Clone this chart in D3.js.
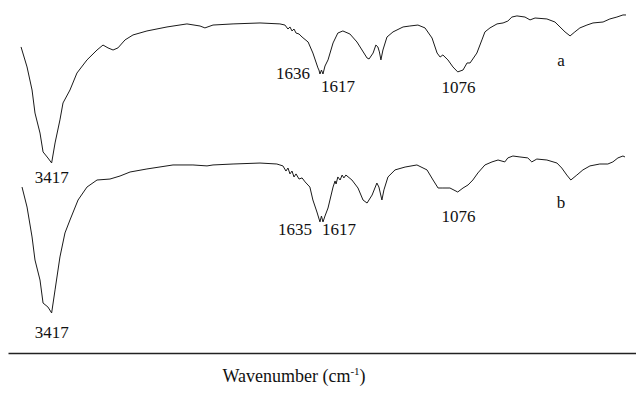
<!DOCTYPE html>
<html>
<head>
<meta charset="utf-8">
<script src="https://cdn.jsdelivr.net/npm/d3@7/dist/d3.min.js"></script>
<style>
  html, body { margin: 0; padding: 0; background: #fff; }
  svg { display: block; }
  text { font-family: "Liberation Serif", "Times New Roman", serif; fill: #111; }
</style>
</head>
<body>
<svg id="chart" width="636" height="394"></svg>
<script>
// ---- data: wavenumber (cm-1) and transmittance (arb. %) ----
const wavenumberA = [3667,3618,3577,3553,3512,3487,3447,3417,3389,3349,3324,3267,3210,3128,3046,2997,2956,2915,2875,2817,2752,2638,2474,2311,2204,2164,2098,1968,1861,1782,1762,1750,1742,1734,1726,1718,1706,1694,1670,1651,1631,1627,1623,1617,1611,1603,1591,1571,1552,1532,1504,1476,1456,1436,1428,1412,1401,1393,1387,1381,1373,1357,1333,1293,1266,1234,1206,1178,1158,1146,1135,1115,1095,1076,1055,1039,1027,1000,980,968,948,920,896,877,861,841,809,789,769,722,690,670,650,630,611,591,563,539,499,472,444,420,408];
const transA      = [76.9,64.4,50,35.6,23.1,11.3,7.5,4.4,16.9,31.3,41.9,50,60.6,68.8,75,78.1,76.3,75,76.3,81.3,84.4,86.9,89.4,91.3,90,88.8,90.6,91.3,91.9,91.3,90.6,88.1,89.4,86.9,88.1,85.6,85,83.1,80,73.1,63.8,62.5,60,62.5,60,65,68.8,79.4,85.6,86.9,85,80,75,70,69.4,73.1,78.1,76.9,73.8,68.8,75,83.1,86.3,89.4,90,90.6,88.8,82.5,73.1,70.6,71.9,68.8,64.4,61.3,62.5,66.9,66.9,73.1,81.3,86.3,88.8,91.3,91.9,93.1,95.6,96.3,95.6,93.8,95,94.4,92.5,89.4,86.3,83.8,86.3,88.8,90.6,91.9,92.5,94.4,95.6,96.9,96.9];

const wavenumberB = [3659,3618,3577,3553,3512,3487,3447,3417,3389,3349,3308,3267,3201,3128,3046,2940,2858,2776,2638,2425,2262,2147,2098,1968,1861,1794,1782,1770,1758,1750,1742,1734,1726,1718,1706,1694,1682,1663,1651,1635,1623,1617,1611,1603,1591,1571,1563,1559,1552,1543,1535,1528,1520,1496,1472,1452,1436,1416,1397,1389,1377,1369,1353,1325,1285,1238,1198,1174,1154,1135,1107,1076,1055,1035,1016,996,968,940,916,889,877,857,829,798,782,762,722,682,663,643,627,603,579,551,512,480,460,440,420,412];
const transB      = [83.1,70.6,51.9,37.5,25,10.6,8.1,4.4,18.8,39.4,54.4,62.5,75,83.1,87.5,88.1,90,92.5,94.4,96.9,96.9,96.3,96.9,97.5,98.1,97.5,96.9,96.3,93.1,95,91.3,93.1,89.4,91.3,88.1,88.8,86.3,83.1,75,67.5,61.3,65,61.3,65,70,83.1,86.9,85,89.4,87.5,90.6,88.8,90.6,87.5,82.5,75,73.1,78.1,85.6,83.1,75,81.3,89.4,93.8,95.6,96.9,93.8,87.5,82.5,82.5,82.5,80,82.5,84.4,87.5,91.9,96.9,98.8,100,98.8,101.3,102.5,101.9,101.3,98.8,100.6,100,98.1,95,90.6,87.5,90.6,93.8,96.3,97.5,97.5,98.8,101.3,102.5,101.9];

// peak labels: text, wavenumber anchor, transmittance anchor, text anchor
const labelsA = [
  {text: "3417", wn: 3417, t: -8,  anchor: "middle"},
  {text: "1636", wn: 1663, t: 57,  anchor: "end"},
  {text: "1617", wn: 1619, t: 49,  anchor: "start"},
  {text: "1076", wn: 1073, t: 48,  anchor: "middle"},
  {text: "a",    wn: 666,  t: 65,  anchor: "middle"}
];
const labelsB = [
  {text: "3417", wn: 3417, t: -11, anchor: "middle"},
  {text: "1635", wn: 1655, t: 53,  anchor: "end"},
  {text: "1617", wn: 1615, t: 53,  anchor: "start"},
  {text: "1076", wn: 1073, t: 61,  anchor: "middle"},
  {text: "b",    wn: 666,  t: 70,  anchor: "middle"}
];
const axisTitle = "Wavenumber (cm";
const axisTitleSup = "-1";

// ---- drawing ----
const svg = d3.select("#chart");

// IR spectrometer style: two linear segments joined at 2000 cm-1
const x = d3.scaleLinear().domain([3700, 2000, 400]).range([17, 225, 628]);
const y = d3.scaleLinear().domain([0, 100]).range([170, 10]);

const line = d3.line()
  .x(d => x(d[0]))
  .y(d => y(d[1]));

const gA = svg.append("g");
const gB = svg.append("g").attr("transform", "translate(0,150)");

gA.append("path")
  .datum(d3.zip(wavenumberA, transA))
  .attr("d", line)
  .attr("fill", "none")
  .attr("stroke", "#1a1a1a")
  .attr("stroke-width", 1)
  .attr("stroke-linejoin", "round");

gB.append("path")
  .datum(d3.zip(wavenumberB, transB))
  .attr("d", line)
  .attr("fill", "none")
  .attr("stroke", "#1a1a1a")
  .attr("stroke-width", 1)
  .attr("stroke-linejoin", "round");

function drawLabels(g, labels) {
  g.selectAll("text.peak")
    .data(labels)
    .join("text")
    .attr("class", "peak")
    .attr("x", d => x(d.wn))
    .attr("y", d => y(d.t))
    .attr("text-anchor", d => d.anchor)
    .attr("font-size", 17)
    .text(d => d.text);
}
drawLabels(gA, labelsA);
drawLabels(gB, labelsB);

// bottom axis line (no ticks)
const xFrame = d3.scaleLinear().domain([x.invert(8), x.invert(636)]).range([8, 636]);
const axis = svg.append("g")
  .attr("transform", "translate(0,353)")
  .call(d3.axisBottom(xFrame).tickValues([]).tickSizeOuter(0));
axis.select(".domain").attr("stroke", "#222").attr("stroke-width", 1.6);

const title = svg.append("text")
  .attr("x", 294)
  .attr("y", 382)
  .attr("text-anchor", "middle")
  .attr("font-size", 18);
title.append("tspan").text(axisTitle);
title.append("tspan").attr("font-size", 11).attr("dy", -7).text(axisTitleSup);
title.append("tspan").attr("dy", 7).text(")");
</script>
</body>
</html>
